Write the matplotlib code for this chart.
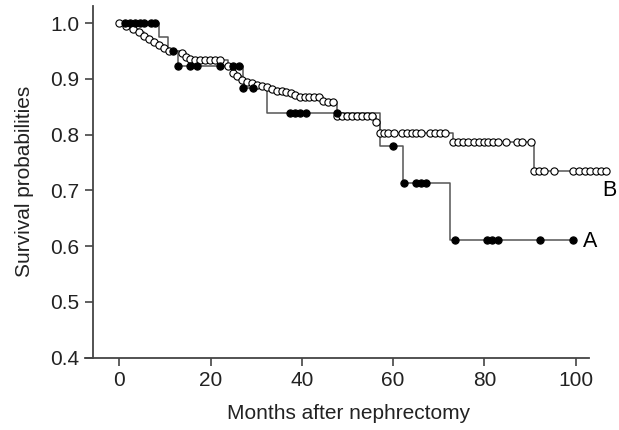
import numpy as np
import matplotlib.pyplot as plt
import matplotlib as mpl

mpl.rcParams.update({"font.family": "Liberation Sans", "font.size": 15})

# group A: step curve (event times, survival after event) and censor marks
a_times = [0, 8.7, 10.7, 12.8, 27.0, 32.3, 57.1, 62.2, 72.4, 99.3]
a_surv = [1.0, 0.975, 0.951, 0.923, 0.883, 0.8395, 0.780, 0.714, 0.611, 0.611]
a_cens = [1.2, 2.3, 3.4, 4.5, 5.4, 6.9, 7.8, 11.7, 12.9, 15.5, 17.0, 22.1,
          25.0, 26.3, 27.2, 29.4, 37.5, 38.6, 39.7, 40.8, 47.8, 60.0,
          62.4, 65.1, 66.2, 67.3, 73.5, 80.5, 81.7, 83.0, 92.2, 99.3]

# group B: observation points (step curve with marks)
b_times = [0, 1.5, 3.0, 4.3, 5.5, 6.6, 7.7, 8.8, 9.8, 10.8,
           13.7, 14.6, 15.5, 16.6, 17.7, 18.8, 19.9, 21.0, 22.1, 23.9,
           25.0, 25.8, 26.8, 27.9, 29.0, 30.1, 31.2, 32.3, 33.4, 34.5, 35.6,
           36.6, 37.6, 38.6, 39.6, 40.7, 41.6, 42.6, 43.8, 44.7, 45.8, 46.9,
           47.8, 48.7, 49.8, 50.9, 52.0, 53.1, 54.2, 55.3, 56.2,
           57.1, 58.0, 58.9, 60.2, 61.9, 63.0, 64.1, 65.1, 66.2, 68.1, 69.2,
           70.2, 71.3,
           73.2, 74.3, 75.4, 76.5, 77.6, 78.7, 79.8, 80.8, 81.9, 83.0, 84.7,
           87.1, 88.2, 90.1,
           90.8, 92.0, 93.0, 95.2, 99.3, 100.7, 102.0, 103.2, 104.4, 105.6, 106.7]
b_surv = [1.0, 0.995, 0.989, 0.984, 0.978, 0.972, 0.966, 0.961, 0.956, 0.951,
          0.947, 0.940, 0.935, 0.934, 0.934, 0.934, 0.934, 0.934, 0.934, 0.923,
          0.910, 0.905, 0.899, 0.895, 0.892, 0.889, 0.887, 0.885, 0.882, 0.879, 0.878,
          0.876, 0.874, 0.871, 0.868, 0.868, 0.868, 0.868, 0.868, 0.861, 0.859, 0.859,
          0.834, 0.834, 0.834, 0.834, 0.834, 0.834, 0.834, 0.834, 0.823,
          0.8025, 0.8025, 0.8025, 0.8025, 0.8025, 0.8025, 0.8025, 0.8025, 0.8025,
          0.8025, 0.8025, 0.8025, 0.8025,
          0.787, 0.787, 0.787, 0.787, 0.787, 0.787, 0.787, 0.787, 0.787, 0.787, 0.787,
          0.787, 0.787, 0.787,
          0.734, 0.734, 0.734, 0.734, 0.734, 0.734, 0.734, 0.734, 0.734, 0.734, 0.734]

fig = plt.figure(figsize=(6.19, 4.30), dpi=100)
ax = fig.add_axes([0.1373, 0.1686, 0.8519, 0.8174])

line_c = "#555555"
ax.step(a_times, a_surv, where="post", color=line_c, lw=1.1, zorder=2)
ax.step(b_times, b_surv, where="post", color=line_c, lw=1.1, zorder=2, clip_on=False)

# censor marks of A sit on the step curve
idx = np.searchsorted(a_times, a_cens, side="right") - 1
a_cens_y = np.array(a_surv)[idx]

ax.plot(b_times, b_surv, "o", ms=5.2, mfc="white", mec="black", mew=0.8,
        zorder=3, clip_on=False)
ax.plot(a_cens, a_cens_y, "o", ms=5.2, mfc="black", mec="black", mew=0.8,
        zorder=4, clip_on=False)

ax.text(103.1, 0.609, "A", ha="center", va="center", fontsize=15.5)
ax.text(107.3, 0.70, "B", ha="center", va="center", fontsize=15.5)

ax.set_xlim(-7.5, 108)
ax.set_ylim(0.4, 1.031)
ax.set_xticks([0, 20, 40, 60, 80, 100])
ax.set_yticks([0.4, 0.5, 0.6, 0.7, 0.8, 0.9, 1.0])
ax.yaxis.set_major_formatter(mpl.ticker.FormatStrFormatter("%.1f"))

ax.spines[["top", "right"]].set_visible(False)
ax.spines["left"].set_position(("data", -5.7))
ax.spines["left"].set_bounds(0.4, 1.031)
ax.spines["bottom"].set_bounds(-7.5, 103)
for s in ["left", "bottom"]:
    ax.spines[s].set_color("#444444")
    ax.spines[s].set_linewidth(1.3)
ax.tick_params(direction="out", length=6, width=1.2, color="#444444",
               labelcolor="#222222", pad=4)

ax.set_xlabel("Months after nephrectomy", color="#222222", labelpad=10)
ax.set_ylabel("Survival probabilities", color="#222222", labelpad=12)

fig.savefig("out.png", dpi=100)
